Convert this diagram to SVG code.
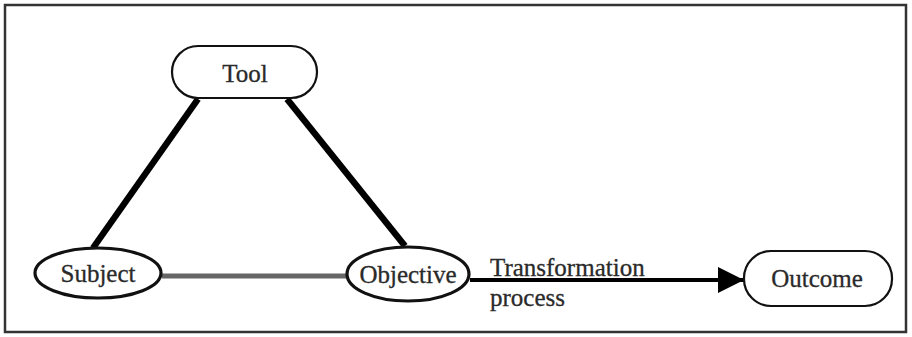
<svg xmlns="http://www.w3.org/2000/svg" width="912" height="337" viewBox="0 0 912 337">
<style>
text{font-family:"Liberation Serif","Times New Roman",serif;font-size:25px;fill:#2a2a2a;stroke:#2a2a2a;stroke-width:0.3}
.node{fill:#fff;stroke:#111;stroke-width:2.2}
.ell{fill:#fff;stroke:#111;stroke-width:3.2}
.c{text-anchor:middle}
</style>
<defs>
<marker id="ah" viewBox="0 0 10 10" refX="10" refY="5" markerWidth="8" markerHeight="6.5" markerUnits="strokeWidth" orient="auto">
<path d="M0,0 L10,5 L0,10 z" fill="#000"/>
</marker>
</defs>
<rect x="5" y="5" width="901" height="327" fill="#fff" stroke="#333" stroke-width="2.5"/>
<g id="connectors">
<line x1="198" y1="99" x2="93" y2="248" stroke="#000" stroke-width="6.5"/>
<line x1="287" y1="99" x2="405" y2="246" stroke="#000" stroke-width="6.5"/>
<line x1="162" y1="276" x2="348" y2="276" stroke="#666" stroke-width="5"/>
<line x1="470" y1="280" x2="744" y2="280" stroke="#000" stroke-width="4" marker-end="url(#ah)"/>
<text x="490" y="276">Transformation</text>
<text x="490" y="306">process</text>
</g>
<g id="tool">
<rect class="node" x="172" y="46" width="145" height="52" rx="26"/>
<text class="c" x="245" y="82">Tool</text>
</g>
<g id="subject">
<ellipse class="ell" cx="98" cy="273" rx="63" ry="25"/>
<text class="c" x="98" y="282">Subject</text>
</g>
<g id="objective">
<ellipse class="ell" cx="408" cy="274" rx="61" ry="27"/>
<text class="c" x="408" y="283">Objective</text>
</g>
<g id="outcome">
<rect class="node" x="744" y="251" width="148" height="55" rx="27"/>
<text class="c" x="817" y="287">Outcome</text>
</g>
</svg>
